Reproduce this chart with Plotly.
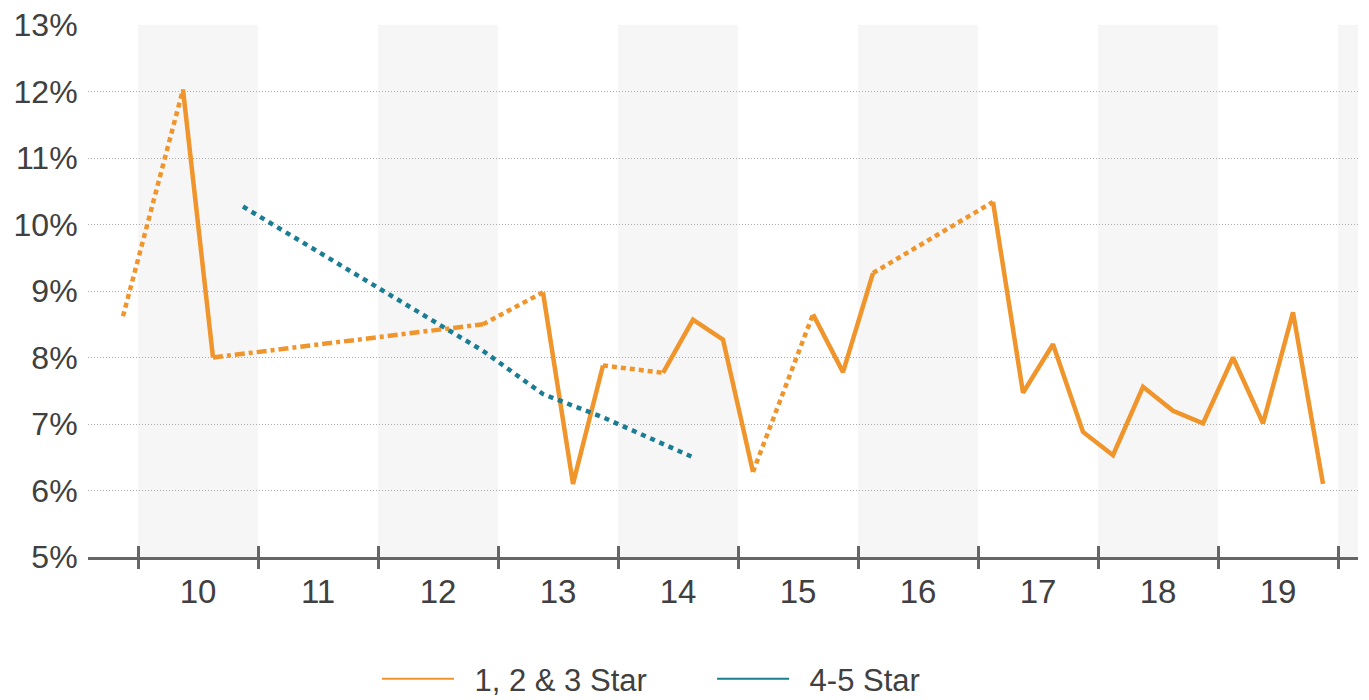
import plotly.graph_objects as go

# ---- data ----
years = [9, 10, 11, 12, 13, 14, 15, 16, 17, 18, 19]
year_labels = ["10", "11", "12", "13", "14", "15", "16", "17", "18", "19"]
shaded_years = [10, 12, 14, 16, 18, 20]
series_names = ["1, 2 & 3 Star", "4-5 Star"]

# quarterly periods from 9Q4 to 19Q4
periods = [(9, 4)] + [(y, q) for y in range(10, 20) for q in (1, 2, 3, 4)]

# 1, 2 & 3 Star (percent); None = no observation
star123 = [
    8.62,                     # 9Q4
    None, 12.03, 8.0, None,   # 10
    None, None, None, None,   # 11
    None, None, None, 8.5,    # 12
    None, 8.98, 6.1, 7.88,    # 13
    None, 7.77, 8.57, 8.27,   # 14
    6.28, None, 8.65, 7.78,   # 15
    9.27, None, None, None,   # 16
    10.34, 7.47, 8.2, 6.88,   # 17
    6.53, 7.56, 7.2, 7.01,    # 18
    8.0, 7.01, 8.68, 6.1,     # 19
]

# 4-5 Star (percent)
star45 = [
    None,                     # 9Q4
    None, None, None, 10.27,  # 10
    None, None, None, 9.18,   # 11
    None, None, None, 8.1,    # 12
    None, 7.45, None, 7.1,    # 13
    None, None, 6.5, None,    # 14
    None, None, None, None,   # 15
    None, None, None, None,   # 16
    None, None, None, None,   # 17
    None, None, None, None,   # 18
    None, None, None, None,   # 19
]

# ---- styling ----
ORANGE = "#F0952B"
TEAL = "#1A7D94"
TEXT = "#404040"
AXIS = "#666666"
FONT = "Liberation Sans, Arial, sans-serif"
DOT = "5px,4px"
DASHDOT = "10px,4px,4px,4px"
NB = "\u00a0"

xq = [y + (q - 0.5) / 4 for (y, q) in periods]
xr = [9.5833, 20.1667]

fig = go.Figure()

# solid segments (consecutive quarters)
fig.add_trace(go.Scatter(x=xq, y=star123, mode="lines", connectgaps=False,
                         line=dict(color=ORANGE, width=4.5), showlegend=False,
                         hoverinfo="skip"))

# segments bridging missing quarters
present = [i for i, v in enumerate(star123) if v is not None]
for a, b in zip(present[:-1], present[1:]):
    if b - a > 1:
        dash = DASHDOT if b - a > 4 else DOT
        fig.add_trace(go.Scatter(x=[xq[a], xq[b]], y=[star123[a], star123[b]],
                                 mode="lines", line=dict(color=ORANGE, width=4.5, dash=dash),
                                 showlegend=False, hoverinfo="skip"))

# 4-5 star dotted
fig.add_trace(go.Scatter(x=xq, y=star45, mode="lines", connectgaps=True,
                         line=dict(color=TEAL, width=4.5, dash="5px,5px"),
                         showlegend=False, hoverinfo="skip"))

# legend entries
fig.add_trace(go.Scatter(x=[None], y=[None], mode="lines",
                         name="\u2002" + series_names[0] + NB * 7,
                         line=dict(color=ORANGE, width=2)))
fig.add_trace(go.Scatter(x=[None], y=[None], mode="lines",
                         name="\u2002" + series_names[1],
                         line=dict(color=TEAL, width=2)))

# dummy traces so the tick-mark axes get drawn
fig.add_trace(go.Scatter(x=[None], y=[None], xaxis="x2", showlegend=False, hoverinfo="skip"))
fig.add_trace(go.Scatter(x=[None], y=[None], xaxis="x3", showlegend=False, hoverinfo="skip"))

for y in shaded_years:
    fig.add_shape(type="rect", xref="x", yref="paper", x0=y, x1=y + 1, y0=0, y1=1,
                  fillcolor="#F6F6F6", line=dict(width=0), layer="below")

fig.update_layout(
    width=1369, height=700,
    margin=dict(l=88, r=11, t=25, b=143, autoexpand=False),
    paper_bgcolor="white", plot_bgcolor="white",
    font=dict(family=FONT, color=TEXT, size=32),
    showlegend=True,
    legend=dict(orientation="h", x=(377 - 88) / 1270, xanchor="left",
                y=-(679 - 557) / 532, yanchor="middle",
                font=dict(size=31, color=TEXT), itemwidth=72, traceorder="normal"),
    xaxis=dict(range=xr, tickvals=[y + 0.5 for y in years[1:]], ticktext=year_labels,
               ticks="outside", ticklen=3, tickcolor="rgba(0,0,0,0)",
               showgrid=False, zeroline=False, showline=True, linecolor=AXIS, linewidth=3,
               tickfont=dict(size=33, color=TEXT)),
    xaxis2=dict(range=xr, overlaying="x", anchor="y", side="bottom",
                tickvals=[y + 1 for y in years], ticks="outside", ticklen=11, tickwidth=3,
                tickcolor=AXIS, showticklabels=False, showgrid=False, zeroline=False,
                showline=False),
    xaxis3=dict(range=xr, overlaying="x", anchor="y", side="bottom",
                tickvals=[y + 1 for y in years], ticks="inside", ticklen=11, tickwidth=3,
                tickcolor=AXIS, showticklabels=False, showgrid=False, zeroline=False,
                showline=False),
    yaxis=dict(range=[5, 13], dtick=1, tick0=5, ticksuffix="%",
               ticks="outside", ticklen=3, tickcolor="rgba(0,0,0,0)",
               showgrid=True, gridcolor="#ABABAB", griddash="1px,2px", gridwidth=1,
               zeroline=False, showline=False, tickfont=dict(size=32, color=TEXT)),
)

fig.write_html("out.html", config={"displayModeBar": False},
               post_script="document.body.style.margin='0';")
